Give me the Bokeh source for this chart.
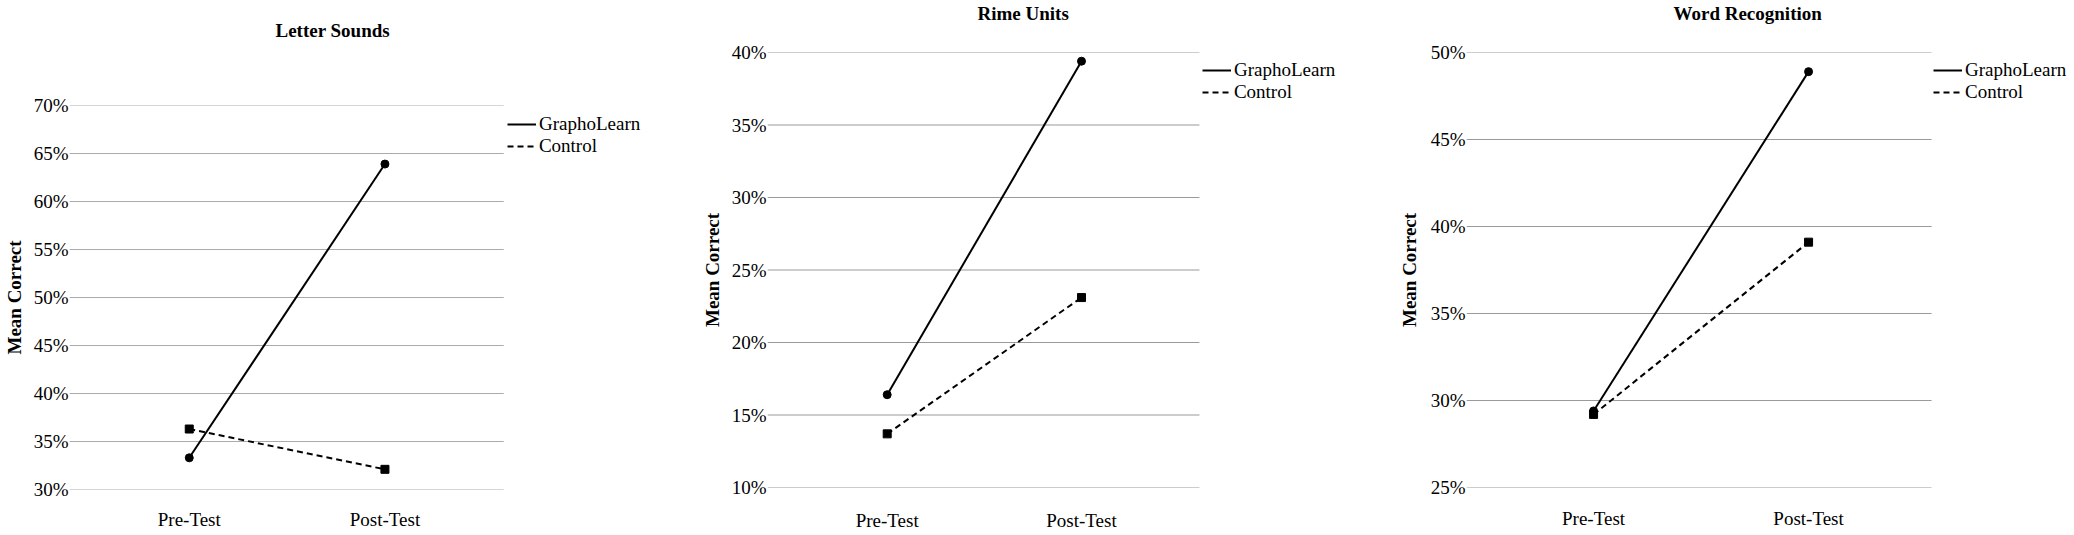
from bokeh.plotting import figure
from bokeh.layouts import row
from bokeh.models import (Range1d, FixedTicker, PrintfTickFormatter, Legend,
                          LegendItem, Title)
from bokeh.embed import file_html
from bokeh.resources import INLINE

# ---- data (in percent) ----
phases = ["Pre-Test", "Post-Test"]
series_names = ["GraphoLearn", "Control"]
panel_titles = ["Letter Sounds", "Rime Units", "Word Recognition"]

grapholearn_letter = [33.3, 63.9]
control_letter = [36.3, 32.1]

grapholearn_rime = [16.4, 39.4]
control_rime = [13.7, 23.1]

grapholearn_word = [29.4, 48.9]
control_word = [29.2, 39.1]

yticks_letter = [30, 35, 40, 45, 50, 55, 60, 65, 70]
yticks_rime = [10, 15, 20, 25, 30, 35, 40]
yticks_word = [25, 30, 35, 40, 45, 50]

y_label = "Mean Correct"

FONT = "Liberation Serif"
FS = "19px"
H = 535
ROW_H = 22


def make_panel(title, g_vals, c_vals, yticks, width, bl, bt, frame_h,
               x_start, x_grid_end, x_unit_px, title_offset, title_gap,
               ylab_standoff, xlab_standoff, grid_color, legend_gap,
               legend_top, glyph_w):
    frame_w = width - bl
    bb = H - bt - frame_h
    x_end = x_start + frame_w / x_unit_px
    p = figure(width=width, height=H, output_backend="svg",
               toolbar_location=None, title=None,
               x_range=Range1d(x_start, x_end),
               y_range=Range1d(yticks[0], yticks[-1]),
               min_border_left=bl, min_border_right=0,
               min_border_top=bt, min_border_bottom=bb)
    p.frame_align = False
    p.outline_line_color = None
    p.background_fill_color = "white"
    p.border_fill_color = "white"

    # horizontal grid lines, limited to the plotting area left of the legend
    n = len(yticks)
    p.segment(x0=[x_start] * n, x1=[x_grid_end] * n, y0=yticks, y1=yticks,
              line_color=grid_color, line_width=1.2)

    xs = list(range(len(phases)))
    r_g = p.line(xs, g_vals, line_color="black", line_width=2)
    p.scatter(xs, g_vals, marker="circle", size=8, color="black")
    r_c = p.line(xs, c_vals, line_color="black", line_width=2, line_dash="6 4")
    p.scatter(xs, c_vals, marker="square", size=8, color="black")

    # x axis
    xa = p.below[0]
    xa.ticker = FixedTicker(ticks=xs)
    xa.major_label_overrides = {i: ph for i, ph in enumerate(phases)}
    xa.axis_label = None
    xa.axis_line_color = None
    xa.major_tick_line_color = None
    xa.minor_tick_line_color = None
    xa.major_tick_out = 0
    xa.major_tick_in = 0
    xa.minor_tick_out = 0
    xa.major_label_standoff = xlab_standoff
    xa.major_label_text_font = FONT
    xa.major_label_text_font_size = FS
    xa.major_label_text_color = "black"
    p.xgrid.grid_line_color = None

    # y axis
    ya = p.left[0]
    ya.ticker = FixedTicker(ticks=yticks)
    ya.formatter = PrintfTickFormatter(format="%d%%")
    ya.axis_line_color = None
    ya.major_tick_line_color = None
    ya.minor_tick_line_color = None
    ya.major_tick_out = 0
    ya.major_tick_in = 0
    ya.minor_tick_out = 0
    ya.major_label_standoff = 1
    ya.major_label_text_font = FONT
    ya.major_label_text_font_size = FS
    ya.major_label_text_color = "black"
    ya.axis_label = y_label
    ya.axis_label_standoff = ylab_standoff
    ya.axis_label_text_font = FONT
    ya.axis_label_text_font_size = FS
    ya.axis_label_text_font_style = "bold"
    ya.axis_label_text_color = "black"
    p.ygrid.grid_line_color = None

    # blank spacer title next to the frame, then the real title above it
    p.add_layout(Title(text=" ", standoff=title_gap, text_font=FONT,
                       text_font_size="1px", text_color="white"), "above")
    p.add_layout(Title(text=title, align="left", offset=title_offset,
                       standoff=0, text_font=FONT,
                       text_font_size=FS, text_font_style="bold",
                       text_color="black"), "above")

    grid_w_px = (x_grid_end - x_start) * x_unit_px
    legend = Legend(items=[LegendItem(label=series_names[0], renderers=[r_g]),
                           LegendItem(label=series_names[1], renderers=[r_c])],
                    location=(grid_w_px + legend_gap,
                              frame_h - legend_top - 2 * ROW_H),
                    glyph_width=glyph_w, glyph_height=ROW_H, label_height=ROW_H,
                    label_standoff=3, padding=0, margin=0, spacing=0,
                    border_line_color=None, background_fill_alpha=0,
                    label_text_font=FONT, label_text_font_size=FS,
                    label_text_color="black")
    p.add_layout(legend, "center")
    return p


p1 = make_panel(panel_titles[0], grapholearn_letter, control_letter, yticks_letter,
                width=690, bl=68, bt=105, frame_h=384,
                x_start=-0.612, x_grid_end=1.607, x_unit_px=196,
                title_offset=206, title_gap=62, ylab_standoff=6, xlab_standoff=19,
                grid_color="#ababab", legend_gap=3, legend_top=8, glyph_w=29)
p2 = make_panel(panel_titles[1], grapholearn_rime, control_rime, yticks_rime,
                width=695, bl=77, bt=52, frame_h=435,
                x_start=-0.616, x_grid_end=1.607, x_unit_px=194.3,
                title_offset=210, title_gap=26, ylab_standoff=6, xlab_standoff=22,
                grid_color="#9a9a9a", legend_gap=3, legend_top=7, glyph_w=29)
p3 = make_panel(panel_titles[2], grapholearn_word, control_word, yticks_word,
                width=689, bl=81, bt=52, frame_h=435,
                x_start=-0.591, x_grid_end=1.572, x_unit_px=215,
                title_offset=207, title_gap=26, ylab_standoff=8, xlab_standoff=20,
                grid_color="#9a9a9a", legend_gap=2, legend_top=7, glyph_w=29)

layout = row(p1, p2, p3)
open("out.html", "w").write(file_html(layout, INLINE))
